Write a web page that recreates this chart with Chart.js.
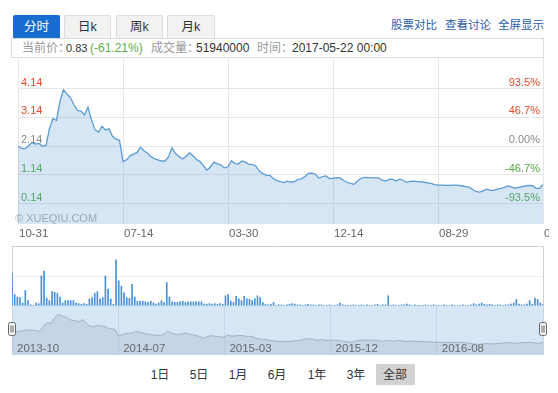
<!DOCTYPE html>
<html><head><meta charset="utf-8">
<script src="https://cdn.jsdelivr.net/npm/chart.js@4.4.1/dist/chart.umd.min.js"></script>
<style>
html,body{margin:0;padding:0;background:#fff;}
body{width:558px;height:393px;position:relative;overflow:hidden;font-family:"Liberation Sans",Arial,"Noto Sans CJK SC",sans-serif;}
.tab{position:absolute;top:15px;height:23px;box-sizing:border-box;border:1px solid #dcdcdc;border-bottom:none;background:#f2f2f2;color:#333;font-size:12.5px;line-height:22px;text-align:center;border-radius:2px 2px 0 0;}
.tab.active{background:#1a6dd0;border-color:#1a6dd0;color:#fff;}
.link{position:absolute;top:17px;font-size:11.5px;color:#2b5ca8;line-height:16px;white-space:nowrap;}
.info{position:absolute;left:11px;top:38px;width:533px;height:20px;box-sizing:border-box;border:1px solid #dcdcdc;}
.it{position:absolute;top:40px;font-size:12px;line-height:16px;white-space:nowrap;}
.g{color:#999;}.d{color:#333;}.gr{color:#5fae48;}
canvas{position:absolute;left:0;}
.wm{position:absolute;left:15px;top:212px;font-size:11px;line-height:13px;color:rgba(110,120,130,0.55);white-space:nowrap;}
.btn{position:absolute;top:367px;font-size:12px;line-height:16px;color:#333;white-space:nowrap;transform:translateX(-50%);}
.sel{position:absolute;left:376px;top:364px;width:39px;height:21px;background:#d2d2d2;}
</style></head>
<body>
<div class="tab active" style="left:13px;width:47px;">分时</div>
<div class="tab" style="left:64px;width:47px;">日k</div>
<div class="tab" style="left:116px;width:47px;">周k</div>
<div class="tab" style="left:167px;width:48px;">月k</div>
<div class="link" style="left:391px;">股票对比</div>
<div class="link" style="left:445px;">查看讨论</div>
<div class="link" style="left:498px;">全屏显示</div>
<div class="info"></div>
<span class="it g" style="left:22px;">当前价：</span>
<span class="it d" style="left:66px;font-size:11px;">0.83</span>
<span class="it gr" style="left:90px;">(-61.21%)</span>
<span class="it g" style="left:151px;">成交量：</span>
<span class="it d" style="left:196px;">51940000</span>
<span class="it g" style="left:257px;">时间：</span>
<span class="it d" style="left:292px;">2017-05-22 00:00</span>
<canvas id="main" width="549" height="190" style="top:57px;"></canvas>
<div class="wm">© XUEQIU.COM</div>
<canvas id="vol" width="548" height="70" style="top:240px;"></canvas>
<canvas id="nav" width="548" height="60" style="top:300px;"></canvas>
<div class="sel"></div>
<span class="btn" style="left:160px;">1日</span>
<span class="btn" style="left:199px;">5日</span>
<span class="btn" style="left:238px;">1月</span>
<span class="btn" style="left:277px;">6月</span>
<span class="btn" style="left:317px;">1年</span>
<span class="btn" style="left:356px;">3年</span>
<span class="btn" style="left:395px;">全部</span>
<script>
const xTickLabels = ['10-31','07-14','03-30','12-14','08-29','05-15'];
const navTickLabels = ['2013-10','2014-07','2015-03','2015-12','2016-08',''];
const priceTicks = [0.14,1.14,2.14,3.14,4.14];
const priceTickLabels = ['0.14','1.14','2.14','3.14','4.14'];
const pctTickLabels = ['-93.5%','-46.7%','0.00%','46.7%','93.5%'];
const prices = [
2.13,2.06,2.05,2.15,2.26,2.21,2.23,2.13,2.16,2.75,
3.10,3.03,3.70,4.10,3.95,3.82,3.57,3.38,3.36,3.22,
3.49,3.05,2.71,2.63,2.83,2.70,2.74,2.48,2.38,2.34,
1.60,1.66,1.80,1.86,1.92,2.10,1.98,1.89,1.77,1.70,
1.66,1.62,1.62,1.76,2.08,1.88,1.78,1.69,1.78,1.90,
1.80,1.67,1.60,1.45,1.30,1.42,1.58,1.52,1.48,1.38,
1.42,1.63,1.53,1.52,1.62,1.58,1.50,1.50,1.44,1.26,
1.18,1.12,1.12,1.00,0.94,0.90,0.87,0.92,0.88,0.90,
0.98,1.00,1.08,1.19,1.20,1.16,1.02,1.08,1.10,1.01,
1.02,1.04,1.03,0.95,0.88,0.84,0.81,0.92,1.02,1.05,
1.04,1.04,1.03,1.03,0.95,0.92,0.98,0.99,0.92,0.99,
0.95,0.88,0.91,0.92,0.90,0.90,0.88,0.86,0.84,0.80,
0.78,0.78,0.77,0.77,0.78,0.78,0.77,0.75,0.73,0.70,
0.62,0.55,0.54,0.59,0.64,0.60,0.60,0.64,0.67,0.70,
0.75,0.72,0.67,0.70,0.73,0.75,0.77,0.76,0.67,0.67,
0.80];
const volumes = [
55,19,15,14,5,26,9,2,1,5,
4,50,58,13,9,24,23,21,15,5,
9,9,9,9,5,4,3,4,3,12,
14,21,24,12,14,50,28,12,3,77,
42,33,22,14,13,36,15,8,8,8,
7,6,8,5,3,5,9,6,39,15,
7,6,6,7,8,6,7,7,7,7,
7,7,3,3,4,3,4,3,4,3,
17,19,8,6,16,12,9,16,12,11,
9,12,17,14,6,3,2,3,6,1,
2,2,1,2,3,4,3,2,2,1,
2,3,2,2,1,2,2,1,1,2,
1,1,2,5,2,1,1,1,2,1,
1,2,1,2,1,1,2,3,1,2,
2,17,1,2,1,1,2,2,3,2,
1,2,1,1,1,2,1,1,2,1,
1,1,2,1,1,2,1,1,1,2,
1,1,2,4,2,3,5,3,2,3,
2,1,2,2,1,2,2,3,5,11,
3,2,2,3,9,3,13,11,5,3];

Chart.defaults.font.family = '"Liberation Sans", Arial, sans-serif';
const STEP = 30;
const noPad = s => { s.paddingLeft = 0; s.paddingRight = 0; s.paddingTop = 0; s.paddingBottom = 0; };
const tickColors = ['#55a845','#55a845','#8a8a8a','#e64b2e','#e64b2e'];
const setPriceTicks = s => { s.ticks = priceTicks.map(v => ({value: v})); };
const setXTicks = s => { s.ticks = xTickLabels.map((l, k) => ({value: k * STEP})); };
const common = {responsive:false, animation:false, devicePixelRatio:1, events:[],
  plugins:{legend:{display:false}, tooltip:{enabled:false}}};

new Chart(document.getElementById('main'), {
  type:'line',
  data:{datasets:[{data:prices.map((v,i)=>({x:i,y:v})), borderColor:'#5b9bd5', borderWidth:1.3,
    backgroundColor:'rgba(91,155,213,0.25)', fill:'start', pointRadius:0, tension:0}]},
  options:Object.assign({}, common, {
    layout:{padding:{left:12,right:6,top:0,bottom:3}},
    scales:{
      x:{type:'linear', min:0, max:prices.length-1, afterBuildTicks:setXTicks, afterFit:noPad,
        grid:{color:'#e6e6e6', drawTicks:false}, border:{display:false},
        ticks:{align:'start', padding:3, labelOffset:1, color:'#666', font:{size:11.5}, maxRotation:0, autoSkip:false,
          callback:(v,i)=>xTickLabels[i]}},
      y:{position:'left', min:-0.58, max:5.24, afterBuildTicks:setPriceTicks, afterFit:noPad,
        grid:{color:'#e6e6e6', drawTicks:false}, border:{display:false},
        ticks:{mirror:true, padding:3, labelOffset:-6, font:{size:11}, color:c=>tickColors[c.index],
          callback:(v,i)=>priceTickLabels[i]}},
      y2:{position:'right', min:-0.58, max:5.24, afterBuildTicks:setPriceTicks, afterFit:noPad,
        grid:{display:false, drawTicks:false}, border:{display:false},
        ticks:{mirror:true, padding:0, labelOffset:-6, font:{size:11}, color:c=>tickColors[c.index],
          callback:(v,i)=>pctTickLabels[i] + ' '}}
    }
  })
});

new Chart(document.getElementById('vol'), {
  type:'bar',
  data:{datasets:[{data:volumes.map((v,i)=>({x:i,y:v})), backgroundColor:'#4a8fd8', barThickness:1, borderWidth:0}]},
  options:Object.assign({}, common, {
    layout:{padding:{left:12,right:5,top:6,bottom:4}},
    scales:{
      x:{type:'linear', min:0, max:volumes.length-1, offset:false,
        afterBuildTicks:s=>{ s.ticks=[{value:0},{value:volumes.length-1}]; }, afterFit:noPad,
        grid:{color:'#cfcfcf', drawTicks:false, offset:false}, border:{display:false}, ticks:{display:false}},
      y:{min:0, max:100, afterBuildTicks:s=>{ s.ticks=[{value:0},{value:50},{value:100}]; }, afterFit:noPad,
        grid:{color:c=>c.tick.value===50?'#ececec':'#cfcfcf', drawTicks:false}, border:{display:false}, ticks:{display:false}}
    }
  })
});

const navDeco = {
  id:'navDeco',
  beforeDraw(c){ const a=c.chartArea, x=c.ctx; x.save(); x.fillStyle='#d6e6f5';
    x.fillRect(a.left, a.top, a.right-a.left, a.bottom-a.top); x.restore(); },
  afterDraw(c){ const a=c.chartArea, x=c.ctx; x.save();
    [a.left, a.right].forEach(h => {
      const l = Math.round(h) - 3.5, t = 22.5, w = 7, hh = 13;
      x.beginPath(); x.roundRect(l, t, w, hh, 2); x.fillStyle='#f4f4f4'; x.fill();
      x.strokeStyle='#666'; x.lineWidth=1; x.stroke();
      x.beginPath(); x.moveTo(l+2.5, t+3); x.lineTo(l+2.5, t+hh-3); x.moveTo(l+4.5, t+3); x.lineTo(l+4.5, t+hh-3); x.stroke();
    });
    x.restore(); }
};

new Chart(document.getElementById('nav'), {
  type:'line',
  data:{datasets:[{data:prices.map((v,i)=>({x:i,y:v})), borderColor:'rgba(150,168,188,0.8)', borderWidth:1,
    backgroundColor:'rgba(150,165,185,0.25)', fill:'start', pointRadius:0, tension:0}]},
  options:Object.assign({}, common, {
    layout:{padding:{left:12,right:5,top:6,bottom:5}},
    scales:{
      x:{type:'linear', min:0, max:prices.length-1, afterBuildTicks:setXTicks, afterFit:noPad, z:1,
        grid:{color:'#c4d6e8', drawTicks:false}, border:{display:false},
        ticks:{align:'start', padding:-12.9, labelOffset:5, color:'#555', font:{size:11.5}, maxRotation:0, autoSkip:false,
          callback:(v,i)=>navTickLabels[i]}},
      y:{display:false, min:-0.73, max:5.11}
    }
  }),
  plugins:[navDeco]
});
</script>
</body></html>
